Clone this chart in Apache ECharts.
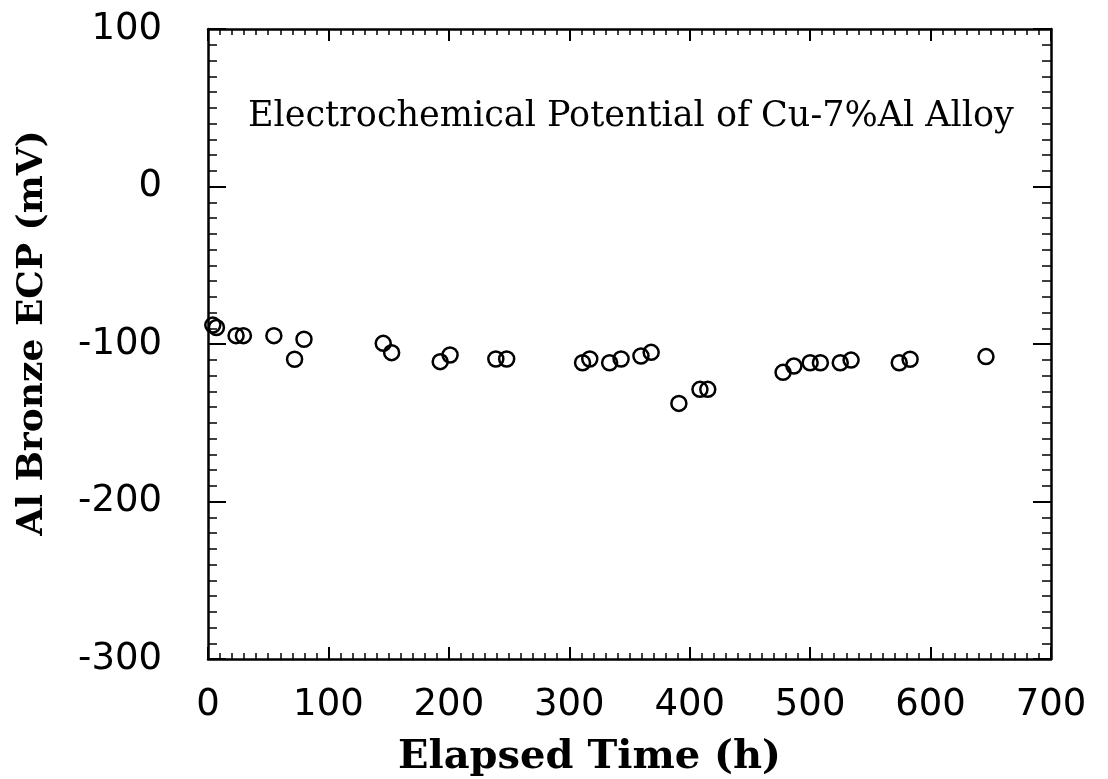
<!DOCTYPE html>
<html>
<head>
<meta charset="utf-8">
<script src="https://cdn.jsdelivr.net/npm/echarts@6/dist/echarts.min.js"></script>
<style>
html,body{margin:0;padding:0;background:#fff;}
#chart{width:1108px;height:779px;}
</style>
</head>
<body>
<div id="chart"></div>
<script>
var timeHours = [4, 7, 23.3, 29.4, 54.7, 71.9, 79.7, 145.5, 152.5, 192.8, 201, 239, 248, 311, 317, 333.5, 343, 359.5, 368, 391, 408.5, 415, 477.5, 486.5, 500, 508.5, 525, 534, 574, 583, 646];
var ecpMilliVolts = [-88, -89.5, -94.7, -94.7, -94.7, -109.7, -97, -99.6, -105.5, -111.2, -107, -109.5, -109.5, -111.9, -109.5, -111.9, -109.5, -107.6, -105.3, -137.7, -128.8, -128.8, -118, -114, -111.9, -111.9, -111.9, -110.2, -111.9, -109.7, -108];
var xTickValues = [0, 100, 200, 300, 400, 500, 600, 700];
var yTickValues = [-300, -200, -100, 0, 100];
var chartTitle = 'Electrochemical Potential of Cu-7%Al Alloy';
var xTitle = 'Elapsed Time (h)';
var yTitle = 'Al Bronze ECP (mV)';

var points = timeHours.map(function (t, i) { return [t, ecpMilliVolts[i]]; });

var chart = echarts.init(document.getElementById('chart'), null, {renderer: 'canvas'});
var lineStyle = {color: '#000', width: 2.5};
var tickFont = {fontFamily: 'DejaVu Sans', fontSize: 37, color: '#000'};

function xAx(pos, showLabel) {
  return {
    type: 'value', position: pos, min: xTickValues[0], max: xTickValues[xTickValues.length - 1], interval: 100,
    axisLine: {show: true, onZero: false, lineStyle: lineStyle},
    axisTick: {show: true, inside: true, length: 12, lineStyle: {color: '#000', width: 2}},
    minorTick: {show: true, splitNumber: 10, length: 6, lineStyle: {color: '#000', width: 1.5}},
    splitLine: {show: false},
    axisLabel: showLabel ? Object.assign({show: true, margin: 28}, tickFont) : {show: false},
    name: showLabel ? xTitle : '', nameLocation: 'middle', nameGap: 79,
    nameTextStyle: {padding: [0, 80, 0, 0], fontFamily: 'DejaVu Serif', fontWeight: 'bold', fontSize: 40, color: '#000'}
  };
}
function yAx(pos, showLabel) {
  return {
    type: 'value', position: pos, min: yTickValues[0], max: yTickValues[yTickValues.length - 1], interval: 100,
    axisLine: {show: true, onZero: false, lineStyle: lineStyle},
    axisTick: {show: true, inside: true, length: 18, lineStyle: {color: '#000', width: 2}},
    minorTick: {show: true, splitNumber: 10, length: 9, lineStyle: {color: '#000', width: 1.5}},
    splitLine: {show: false},
    axisLabel: showLabel ? Object.assign({show: true, margin: 46}, tickFont) : {show: false},
    name: showLabel ? yTitle : '', nameLocation: 'middle', nameGap: 157,
    nameTextStyle: {padding: [0, 0, 0, 22], fontFamily: 'DejaVu Serif', fontWeight: 'bold', fontSize: 36, color: '#000'}
  };
}

chart.setOption({
  backgroundColor: '#fff',
  animation: false,
  title: {
    text: chartTitle, left: 243, top: 94,
    textStyle: {fontFamily: 'DejaVu Serif', fontWeight: 'normal', fontSize: 35, color: '#000'}
  },
  grid: {left: 208, right: 57, top: 29, bottom: 120, containLabel: false, outerBoundsMode: 'none'},
  xAxis: [xAx('bottom', true), xAx('top', false)],
  yAxis: [yAx('left', true), yAx('right', false)],
  series: [{
    type: 'scatter', xAxisIndex: 0, yAxisIndex: 0,
    data: points,
    symbol: 'circle', symbolSize: 15,
    itemStyle: {color: 'rgba(0,0,0,0)', borderColor: '#000', borderWidth: 2.5, opacity: 1}
  }]
});
</script>
</body>
</html>
